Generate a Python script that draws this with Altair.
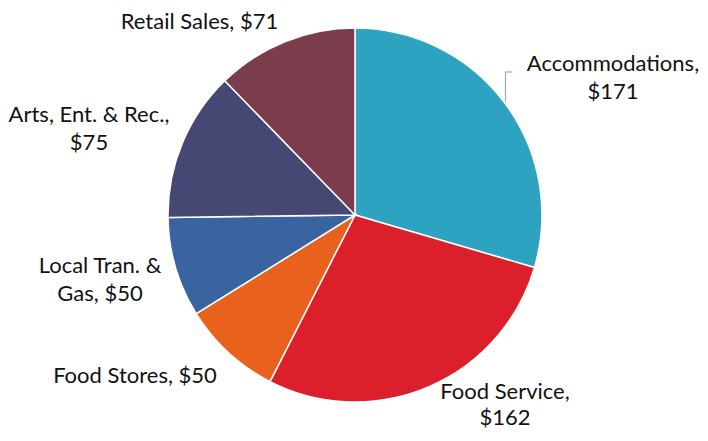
import altair as alt
import pandas as pd

categories = ["Accommodations", "Food Service", "Food Stores", "Local Tran. & Gas", "Arts, Ent. & Rec.", "Retail Sales"]
values = [171, 162, 50, 50, 75, 71]
label_lines = [
    ["Accommodations,", "$171"],
    ["Food Service,", "$162"],
    ["Food Stores, $50"],
    ["Local Tran. &", "Gas, $50"],
    ["Arts, Ent. & Rec.,", "$75"],
    ["Retail Sales, $71"],
]
colors = ["#2EA3C1", "#DB1F2B", "#E8621E", "#3A64A0", "#464873", "#7B3C4B"]

df = pd.DataFrame({
    "category": categories,
    "value": values,
    "order": list(range(len(categories))),
    "label": label_lines,
})

CX, CY, R = 347, 207, 187
FONT = "Lato"

pie = alt.Chart(df).mark_arc(stroke="white", strokeWidth=1.5, radius=R).encode(
    theta=alt.Theta("value:Q", stack=True),
    order=alt.Order("order:Q"),
    color=alt.Color("category:N", scale=alt.Scale(domain=categories, range=colors), legend=None),
    x=alt.value(CX),
    y=alt.value(CY),
)

# (x center, y of first line center, line height)
label_pos = [(605, 56, 28), (497, 384, 26), (127, 368, 28), (92, 258, 28), (81, 107, 28), (191.5, 14, 28)]

layers = [pie]
for cat, (px, py, lh) in zip(categories, label_pos):
    layers.append(
        alt.Chart(df).transform_filter(alt.datum.category == cat)
        .mark_text(font=FONT, fontSize=22, color="#111111", align="center",
                   baseline="middle", lineHeight=lh)
        .encode(x=alt.value(px), y=alt.value(py), text="label")
    )

leader_v = alt.Chart(df).transform_filter(alt.datum.order == 0).mark_rule(color="#A8A8A8", strokeWidth=1.2).encode(
    x=alt.value(497.5), y=alt.value(64), y2=alt.value(94))
leader_h = alt.Chart(df).transform_filter(alt.datum.order == 0).mark_rule(color="#A8A8A8", strokeWidth=1.2).encode(
    x=alt.value(497), x2=alt.value(504), y=alt.value(64))
layers += [leader_v, leader_h]

chart = alt.layer(*layers).properties(
    width=692, height=425, autosize=alt.AutoSizeParams(type="none"), padding=0
).configure_view(stroke=None)

chart.save("out.html", embed_options={"renderer": "svg", "actions": False})
